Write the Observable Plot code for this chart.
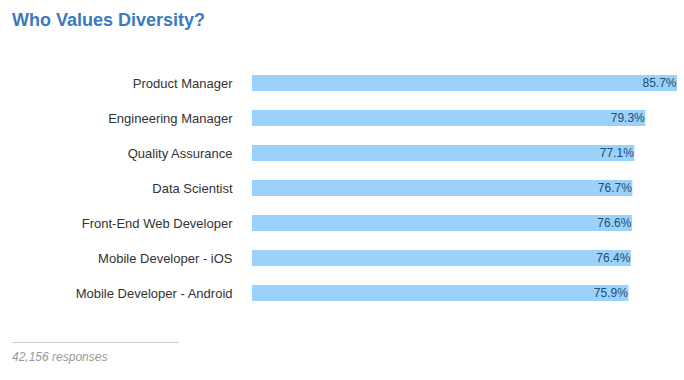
<!DOCTYPE html>
<html>
<head>
<meta charset="utf-8">
<script src="https://cdn.jsdelivr.net/npm/d3@7"></script>
<script src="https://cdn.jsdelivr.net/npm/@observablehq/plot@0.6"></script>
<style>
  body { margin: 0; background: #fff; font-family: "Liberation Sans", Arial, Helvetica, sans-serif; }
  #wrap { width: 684px; height: 380px; position: relative; overflow: hidden; }
  #title { height: 45px; padding-left: 12px; box-sizing: border-box; padding-top: 9px;
           font-size: 18px; font-weight: bold; color: #3a7abd; line-height: 22px; }
  #chart svg { display: block; }
  #footer { margin-left: 12px; }
  #footer .rule { width: 167px; border-top: 1px solid #cfcfcf; margin-top: 17px; }
  #footer .note { font-size: 12px; font-style: italic; color: #999; margin-top: 7px; }
</style>
</head>
<body>
<div id="wrap">
  <div id="title">Who Values Diversity?</div>
  <div id="chart"></div>
  <div id="footer"><div class="rule"></div><div class="note">42,156 responses</div></div>
</div>
<script>
const roles = ["Product Manager", "Engineering Manager", "Quality Assurance", "Data Scientist",
               "Front-End Web Developer", "Mobile Developer - iOS", "Mobile Developer - Android"];
const values = [85.7, 79.3, 77.1, 76.7, 76.6, 76.4, 75.9];
const labels = ["85.7%", "79.3%", "77.1%", "76.7%", "76.6%", "76.4%", "75.9%"];

const data = roles.map((r, i) => ({role: r, value: values[i], label: labels[i]}));

const chart = Plot.plot({
  width: 684,
  height: 280,
  marginLeft: 252,
  marginRight: 7,
  marginTop: 11,
  marginBottom: 5,
  style: {fontFamily: '"Liberation Sans", Arial, Helvetica, sans-serif', background: "#fff"},
  x: {domain: [0, 85.7], axis: null},
  y: {domain: roles, padding: 0.54, label: null, tickSize: 0, tickPadding: 20},
  marks: [
    Plot.barX(data, {x: "value", y: "role", fill: "#9bd2fb"}),
    Plot.text(data, {x: "value", y: "role", text: "label", textAnchor: "end", dx: -1, fill: "#234d74", fontSize: 12}),
    Plot.axisY({tickSize: 0, tickPadding: 20, fontSize: 13, color: "#333", label: null})
  ]
});
document.getElementById("chart").appendChild(chart);
</script>
</body>
</html>
